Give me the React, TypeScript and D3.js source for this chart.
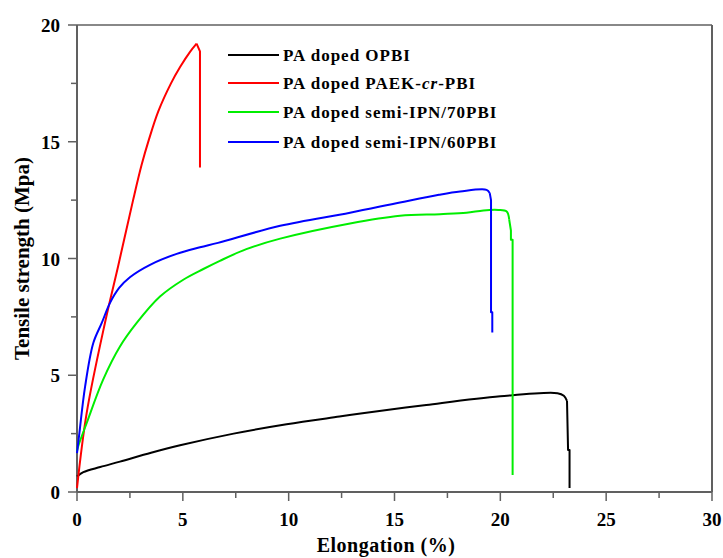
import React from "react";
import * as d3 from "d3";

// values: [elongation %, tensile strength MPa]
const opbi: [number, number][] = [
  [0, 0.66], [0.3, 0.85], [1.1, 1.07], [2.03, 1.3], [3.5, 1.68], [4.87, 2.0],
  [7.4, 2.5], [9.9, 2.9], [12.4, 3.23], [13.4, 3.36], [16.5, 3.73], [20, 4.1],
  [22.7, 4.23], [23.0, 4.12], [23.15, 3.9], [23.2, 1.8], [23.27, 1.8], [23.27, 0.17],
];
const paekPbi: [number, number][] = [
  [0, 0.17], [0.46, 3.4], [1.32, 7.24], [1.94, 9.66], [2.65, 12.5], [3.05, 14.0],
  [3.4, 15.1], [3.84, 16.3], [4.44, 17.5], [4.87, 18.2], [5.34, 18.85], [5.65, 19.2],
  [5.81, 18.87], [5.81, 13.9],
];
const ipn70: [number, number][] = [
  [0, 1.75], [0.05, 1.94], [0.46, 2.96], [1.23, 4.8], [2.03, 6.23], [2.82, 7.24],
  [3.92, 8.37], [5.02, 9.09], [5.97, 9.55], [6.75, 9.9], [8.0, 10.4], [9.6, 10.85],
  [12.9, 11.5], [15.26, 11.83], [17.15, 11.9], [18.4, 11.96], [19.2, 12.06],
  [19.9, 12.08], [20.3, 12.01], [20.42, 11.66], [20.5, 11.2], [20.5, 10.8],
  [20.58, 10.8], [20.58, 0.73],
];
const ipn60: [number, number][] = [
  [0, 1.67], [0.11, 2.5], [0.38, 4.5], [0.77, 6.38], [1.17, 7.24], [1.56, 8.1],
  [2.0, 8.75], [2.5, 9.2], [3.45, 9.73], [4.71, 10.2], [5.81, 10.48], [6.66, 10.67],
  [9.6, 11.4], [12.9, 11.96], [15.26, 12.4], [17.1, 12.73], [18.1, 12.87],
  [19.35, 12.94], [19.5, 12.8], [19.56, 12.5], [19.56, 7.7], [19.62, 7.7],
  [19.62, 6.83],
];

// elongation where each curve stops bending and drops at break
const breakX = [23.15, 5.65, 20.42, 19.5];

const seriesNames = [
  "PA doped OPBI",
  "PA doped PAEK-cr-PBI",
  "PA doped semi-IPN/70PBI",
  "PA doped semi-IPN/60PBI",
];
const seriesColors = ["#000000", "#ff0000", "#00ee00", "#0000ff"];
const seriesData = [opbi, paekPbi, ipn70, ipn60];

const xTicks = [0, 5, 10, 15, 20, 25, 30];
const yTicks = [0, 5, 10, 15, 20];

const font = "'Liberation Serif', 'Times New Roman', serif";
const axisColor = "#606060";

export default function App() {
  const width = 723;
  const height = 558;

  const x = d3.scaleLinear().domain([0, 30]).range([77, 712]);
  const y = d3.scaleLinear().domain([0, 20]).range([492, 25]);

  const smooth = d3
    .line<[number, number]>()
    .x((d) => x(d[0]))
    .y((d) => y(d[1]))
    .curve(d3.curveCatmullRom.alpha(0.5));

  const straight = d3
    .line<[number, number]>()
    .x((d) => x(d[0]))
    .y((d) => y(d[1]));

  const xMinor = d3.range(2.5, 30, 5);
  const yMinor = d3.range(2.5, 20, 5);

  const legendX = 228;
  const legendRows = [55, 83, 112, 142];

  return (
    <svg
      width={width}
      height={height}
      style={{ position: "absolute", left: 0, top: 0, background: "#fff" }}
      fontFamily={font}
      fontWeight="bold"
    >
      {/* frame */}
      <line x1={x(0)} x2={x(30)} y1={y(20)} y2={y(20)} stroke={axisColor} strokeWidth={1.5} />
      <line x1={x(30)} x2={x(30)} y1={y(20)} y2={y(0)} stroke={axisColor} strokeWidth={2} />
      <line x1={x(0)} x2={x(0)} y1={y(20)} y2={y(0)} stroke={axisColor} strokeWidth={2} />
      <line x1={x(0)} x2={x(30)} y1={y(0)} y2={y(0)} stroke={axisColor} strokeWidth={2} />

      {/* x ticks */}
      {xTicks.map((t) => (
        <g key={"xt" + t}>
          <line x1={x(t)} x2={x(t)} y1={y(0)} y2={y(0) + 9} stroke={axisColor} strokeWidth={1.5} />
          <text x={x(t)} y={y(0) + 34} textAnchor="middle" fontSize={19}>
            {t}
          </text>
        </g>
      ))}
      {xMinor.map((t) => (
        <line key={"xm" + t} x1={x(t)} x2={x(t)} y1={y(0)} y2={y(0) + 6} stroke={axisColor} strokeWidth={1.5} />
      ))}

      {/* y ticks */}
      {yTicks.map((t) => (
        <g key={"yt" + t}>
          <line x1={x(0) - 9} x2={x(0)} y1={y(t)} y2={y(t)} stroke={axisColor} strokeWidth={1.5} />
          <text x={x(0) - 17} y={y(t) + 7} textAnchor="end" fontSize={19}>
            {t}
          </text>
        </g>
      ))}
      {yMinor.map((t) => (
        <line key={"ym" + t} x1={x(0) - 6} x2={x(0)} y1={y(t)} y2={y(t)} stroke={axisColor} strokeWidth={1.5} />
      ))}

      {/* axis titles */}
      <text x={386} y={552} textAnchor="middle" fontSize={20} letterSpacing={0.5}>
        Elongation (%)
      </text>
      <text
        transform={`translate(29,${(y(0) + y(20)) / 2}) rotate(-90)`}
        textAnchor="middle"
        fontSize={21}
      >
        Tensile strength (Mpa)
      </text>

      {/* curves: smooth rise, then straight drop at break */}
      {seriesData.map((d, i) => {
        const k = d.findIndex((p) => p[0] >= breakX[i]);
        return (
          <g key={seriesNames[i]} fill="none" stroke={seriesColors[i]} strokeWidth={2} strokeLinejoin="round">
            <path d={smooth(d.slice(0, k + 1)) ?? ""} />
            <path d={straight(d.slice(k)) ?? ""} />
          </g>
        );
      })}

      {/* legend */}
      {seriesNames.map((name, i) => (
        <g key={"lg" + i}>
          <line
            x1={legendX}
            x2={legendX + 51}
            y1={legendRows[i]}
            y2={legendRows[i]}
            stroke={seriesColors[i]}
            strokeWidth={2}
          />
          <text x={legendX + 55} y={legendRows[i] + 6} fontSize={17} letterSpacing={1}>
            {i === 1 ? (
              <>
                PA doped PAEK-<tspan fontStyle="italic">cr</tspan>-PBI
              </>
            ) : (
              name
            )}
          </text>
        </g>
      ))}
    </svg>
  );
}
